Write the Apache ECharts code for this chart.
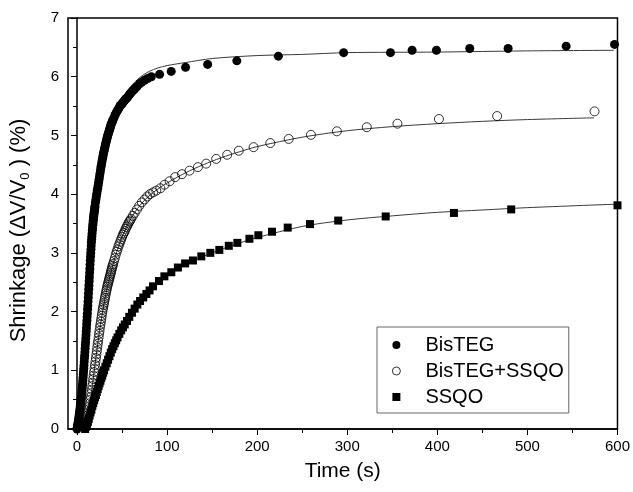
<!DOCTYPE html>
<html>
<head>
<meta charset="utf-8">
<script src="https://cdn.jsdelivr.net/npm/echarts@6/dist/echarts.min.js"></script>
<style>html,body{margin:0;padding:0;background:#fff}#c{width:633px;height:492px}</style>
</head>
<body>
<div id="c"></div>
<script>
// ---- data ----
const xTicks = [0, 100, 200, 300, 400, 500, 600];
const xMinorTicks = [50, 150, 250, 350, 450, 550];
const seriesNames = ['BisTEG', 'BisTEG+SSQO', 'SSQO'];

const bisTime = [0,0.25,0.5,0.75,1,1.25,1.5,1.75,2,2.25,2.5,2.75,3,3.25,3.5,3.75,4,4.25,4.5,4.75,5,5.25,5.5,5.75,6,6.25,6.5,6.75,7,7.25,7.5,7.75,8,8.25,8.5,8.75,9,9.25,9.5,9.75,10,10.25,10.5,10.75,11,11.25,11.5,11.75,12,12.25,12.5,12.75,13,13.25,13.5,13.75,14,14.25,14.5,14.75,15,15.25,15.5,15.75,16,16.25,16.5,16.75,17,17.25,17.5,17.75,18,18.25,18.5,18.75,19,19.25,19.5,19.75,20,
  20.5,21,21.5,22,22.5,23,23.5,24,24.5,25,25.5,26,26.5,27,27.5,28,28.5,29,29.5,30,30.5,31,31.5,32,32.5,33,33.5,34,34.5,35,35.5,36,36.5,37,37.5,38,38.5,39,39.5,40,
  41,42,43,44,45,46,47,48,49,50,51,52,53,54,55,56,57,58,59,60,62,64,66.5,69.5,72,75,78.5,82.5,
  91.7,104.6,120.5,145,177.4,223.5,296,348,372,399,436,478.6,543,596.7];
const bisVal = [0,0.02,0.04,0.06,0.08,0.10,0.13,0.15,0.18,0.21,0.24,0.27,0.30,0.33,0.36,0.40,0.43,0.46,0.50,0.53,0.57,0.61,0.65,0.69,0.74,0.78,0.83,0.88,0.93,0.98,1.03,1.08,1.14,1.20,1.25,1.31,1.37,1.43,1.48,1.54,1.60,1.66,1.72,1.79,1.85,1.91,1.97,2.04,2.10,2.17,2.24,2.31,2.38,2.45,2.52,2.59,2.66,2.73,2.80,2.87,2.94,3.00,3.06,3.12,3.18,3.23,3.28,3.33,3.38,3.42,3.47,3.51,3.55,3.58,3.62,3.65,3.68,3.71,3.74,3.77,3.80,
  3.86,3.91,3.96,4.01,4.06,4.10,4.15,4.20,4.25,4.30,4.35,4.40,4.45,4.49,4.54,4.58,4.62,4.66,4.70,4.73,4.77,4.80,4.84,4.87,4.90,4.93,4.96,4.99,5.02,5.04,5.07,5.09,5.12,5.14,5.17,5.19,5.21,5.23,5.25,5.27,
  5.30,5.34,5.37,5.40,5.43,5.45,5.48,5.51,5.52,5.54,5.56,5.58,5.60,5.62,5.63,5.65,5.67,5.69,5.71,5.73,5.76,5.79,5.83,5.88,5.91,5.94,5.97,6.00,
  6.04,6.09,6.16,6.21,6.27,6.35,6.41,6.41,6.45,6.45,6.48,6.48,6.52,6.55];

const mixTime = [9,9.5,10,10.5,11,11.5,12,12.5,13,13.5,14,14.5,15,15.5,16,16.5,17,17.5,18,18.5,19,19.5,20,20.5,21,21.5,22,22.5,23,23.5,24,24.5,25,25.5,26,26.5,27,27.5,28,28.5,29,29.5,30,30.5,31,31.5,32,32.5,33,33.5,34,34.5,35,35.5,36,36.5,37,37.5,38,38.5,39,39.5,40,
  41,42,43,44,45,46,47,48,49,50,51,52,53,54,55,56,57,58,59,60,62,64,66.5,69,72,75,78,81,84.5,88,
  92.5,97.2,102.8,109,116.5,124.9,134.2,143.4,154.5,166.7,179.6,196,214.6,235,259.7,288.5,321.7,355.7,401.8,466.4,574.5];
const mixVal = [0.02,0.04,0.07,0.09,0.12,0.15,0.19,0.24,0.29,0.34,0.39,0.44,0.50,0.55,0.61,0.67,0.73,0.79,0.85,0.91,0.97,1.03,1.09,1.15,1.21,1.27,1.33,1.39,1.45,1.50,1.56,1.62,1.67,1.73,1.78,1.83,1.88,1.93,1.98,2.03,2.07,2.11,2.15,2.19,2.23,2.27,2.31,2.35,2.38,2.42,2.45,2.48,2.51,2.54,2.57,2.60,2.63,2.66,2.69,2.72,2.75,2.78,2.81,
  2.86,2.91,2.97,3.02,3.06,3.11,3.15,3.19,3.23,3.27,3.31,3.34,3.37,3.41,3.44,3.47,3.50,3.53,3.55,3.58,3.63,3.68,3.74,3.80,3.86,3.91,3.96,4.00,4.03,4.06,
  4.10,4.16,4.22,4.29,4.34,4.40,4.46,4.52,4.60,4.67,4.74,4.80,4.87,4.94,5.01,5.07,5.14,5.20,5.28,5.33,5.41];

const ssqoTime = [9,10,11,12,13,14,15,16,17,18,19,20,21,22,23,24,25,26,27,28,29,30,31.5,33,34.5,36,37.5,39,40.5,42,43.5,45,47,49,51,53,55.5,58,61,64,67,70,73.5,77,80.5,84.4,91,97,104.7,112,120,128.7,138,148,158,168.5,178,191.4,201.3,216.5,233.9,258.6,290,342.7,418.4,482,600];
const ssqoVal = [0,0.04,0.08,0.12,0.17,0.23,0.28,0.33,0.39,0.44,0.49,0.54,0.58,0.63,0.68,0.73,0.78,0.82,0.87,0.91,0.96,1.00,1.06,1.12,1.18,1.24,1.30,1.36,1.41,1.46,1.51,1.56,1.62,1.68,1.73,1.78,1.84,1.91,1.98,2.05,2.12,2.18,2.24,2.30,2.36,2.43,2.52,2.60,2.67,2.75,2.82,2.87,2.94,3.00,3.05,3.12,3.17,3.24,3.30,3.36,3.43,3.49,3.55,3.62,3.68,3.74,3.81];

// fitted curves
const bisFitTime = [0,3,6,9,12,15,18,21,24,27,30,35,40,45,50,60,70,80,90,100,120,150,200,250,300,400,500,596];
const bisFitVal  = [0,0.35,0.8,1.4,2.1,2.85,3.45,3.9,4.25,4.55,4.78,5.08,5.3,5.48,5.62,5.84,5.99,6.09,6.15,6.19,6.24,6.31,6.36,6.38,6.41,6.42,6.44,6.45];
const mixFitTime = [9,12,15,18,21,25,30,35,40,45,50,60,70,80,90,100,120,140,160,180,200,250,300,350,400,450,500,574];
const mixFitVal  = [0,0.15,0.48,0.85,1.22,1.67,2.14,2.5,2.80,3.06,3.27,3.59,3.81,3.97,4.09,4.19,4.36,4.50,4.62,4.72,4.81,4.97,5.08,5.15,5.20,5.24,5.27,5.30];
const ssqoFitTime = [9,12,15,20,25,30,40,50,60,70,80,100,125,150,175,200,250,300,350,400,450,500,600];
const ssqoFitVal  = [0,0.12,0.28,0.54,0.78,1.0,1.40,1.70,1.95,2.17,2.35,2.62,2.84,3.0,3.14,3.26,3.45,3.56,3.63,3.69,3.73,3.77,3.83];

const pairs = (t, v) => t.map((x, i) => [x, v[i]]);

const FONT = 'Liberation Sans, Arial, sans-serif';
const chart = echarts.init(document.getElementById('c'), null, {renderer: 'canvas'});

const lineStyleFit = {color: '#3a3a3a', width: 1};

chart.setOption({
  animation: false,
  backgroundColor: '#fff',
  grid: {left: 66, right: 15, top: 18, bottom: 63, show: true, borderColor: '#000', borderWidth: 1.5, containLabel: false},
  xAxis: [{
    type: 'value', min: -10, max: 600,
    name: 'Time (s)', nameLocation: 'middle', nameGap: 32,
    nameTextStyle: {fontFamily: FONT, fontSize: 21, color: '#000'},
    axisLine: {show: true, lineStyle: {color: '#000', width: 1.5}},
    axisTick: {show: true, inside: false, length: 6, lineStyle: {color: '#000', width: 1}, customValues: xTicks},
    axisLabel: {show: true, fontFamily: FONT, fontSize: 15, color: '#000', margin: 10, customValues: xTicks},
    splitLine: {show: false}
  }, {
    type: 'value', min: -10, max: 600, position: 'bottom',
    axisLine: {show: false},
    axisTick: {show: true, inside: false, length: 4, lineStyle: {color: '#000', width: 1}, customValues: xMinorTicks},
    axisLabel: {show: false},
    splitLine: {show: false}
  }],
  yAxis: {
    type: 'value', min: 0, max: 7, interval: 1,
    name: '{a|Shrinkage (ΔV/V}{s|0}{a| ) (%)}', nameLocation: 'middle', nameGap: 36, nameRotate: 90,
    nameTextStyle: {
      fontFamily: FONT, color: '#000', padding: [0, 14, 0, 0],
      rich: {
        a: {fontFamily: FONT, fontSize: 22, color: '#000', lineHeight: 26},
        s: {fontFamily: FONT, fontSize: 13, color: '#000', verticalAlign: 'bottom', lineHeight: 26}
      }
    },
    axisLine: {show: true, lineStyle: {color: '#000', width: 1.5}},
    axisTick: {show: true, inside: false, length: 6, lineStyle: {color: '#000', width: 1}},
    minorTick: {show: true, splitNumber: 2, length: 4, lineStyle: {color: '#000', width: 1}},
    axisLabel: {fontFamily: FONT, fontSize: 15, color: '#000', margin: 9},
    splitLine: {show: false}
  },
  legend: {
    orient: 'vertical', left: 377, top: 327,
    padding: [8, 5, 6, 15],
    itemWidth: 8, itemHeight: 8, itemGap: 6,
    backgroundColor: '#fff', borderColor: '#666', borderWidth: 1,
    textStyle: {fontFamily: FONT, fontSize: 20, color: '#000', lineHeight: 20, padding: [0, 0, 0, 20]},
    data: [
      {name: seriesNames[0], icon: 'circle', itemStyle: {color: '#000'}},
      {name: seriesNames[1], icon: 'circle', itemStyle: {color: '#fff', borderColor: '#000', borderWidth: 0.8}},
      {name: seriesNames[2], icon: 'rect', itemStyle: {color: '#000'}}
    ]
  },
  series: [
    {name: 'fit1', type: 'line', data: pairs(bisFitTime, bisFitVal), smooth: 0.3, showSymbol: false, lineStyle: lineStyleFit, z: 1, silent: true},
    {name: 'fit2', type: 'line', data: pairs(mixFitTime, mixFitVal), smooth: 0.3, showSymbol: false, lineStyle: lineStyleFit, z: 1, silent: true},
    {name: 'fit3', type: 'line', data: pairs(ssqoFitTime, ssqoFitVal), smooth: 0.3, showSymbol: false, lineStyle: lineStyleFit, z: 1, silent: true},
    {name: seriesNames[0], type: 'scatter', data: pairs(bisTime, bisVal), symbol: 'circle', symbolSize: 9,
      itemStyle: {color: '#000', opacity: 1}, z: 3},
    {name: seriesNames[1], type: 'scatter', data: pairs(mixTime, mixVal), symbol: 'circle', symbolSize: 9,
      itemStyle: {color: 'rgba(0,0,0,0)', borderColor: '#000', borderWidth: 0.8, opacity: 1}, z: 3},
    {name: seriesNames[2], type: 'scatter', data: pairs(ssqoTime, ssqoVal), symbol: 'rect', symbolSize: 8,
      itemStyle: {color: '#000', opacity: 1}, z: 3}
  ]
});
</script>
</body>
</html>
